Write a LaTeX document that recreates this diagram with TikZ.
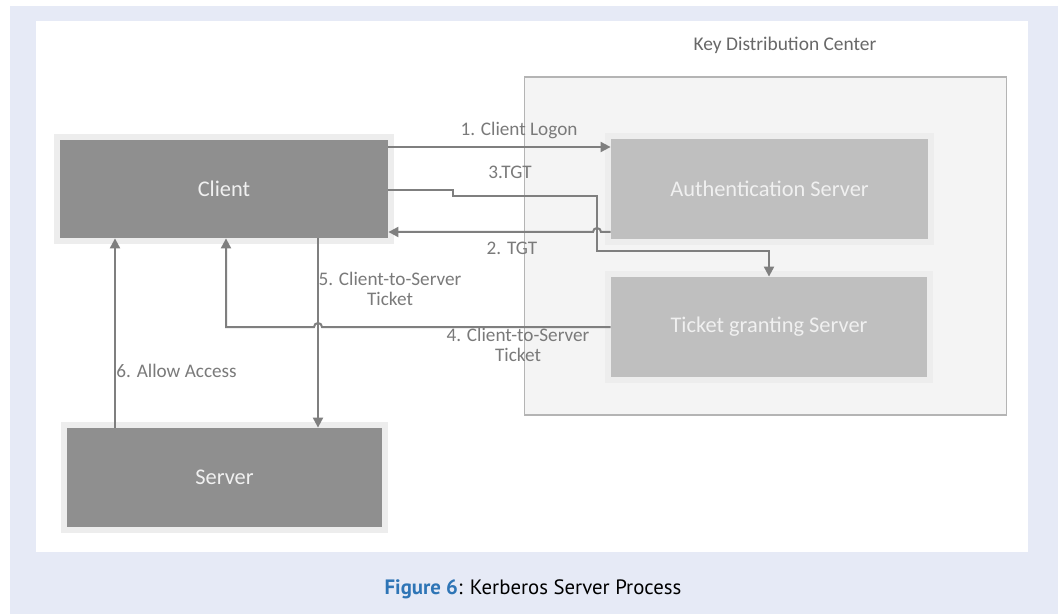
\documentclass[tikz,border=0pt]{standalone}
\usepackage{fontspec}
\setmainfont{Carlito}
\newfontfamily\captionfont{PT Sans}
\usetikzlibrary{arrows.meta,calc}

\definecolor{panelblue}{HTML}{E6EAF6}
\definecolor{figblue}{HTML}{2E75B6}
\definecolor{boxdark}{HTML}{8F8F8F}
\definecolor{boxlight}{HTML}{BFBFBF}
\definecolor{halogray}{HTML}{EDEDED}
\definecolor{kdcfill}{HTML}{F4F4F4}
\definecolor{kdcline}{HTML}{B4B4B4}
\definecolor{linegray}{HTML}{7F7F7F}
\definecolor{labelgray}{HTML}{7A7A7A}

\begin{document}
\begin{tikzpicture}[x=0.5pt, y=-0.5pt,
    srvbox/.style={preaction={draw=halogray, line width=6pt}, inner sep=0pt,
        text=white!94!black, font=\fontsize{11.2}{13}\selectfont},
    darkbox/.style={srvbox, fill=boxdark},
    lightbox/.style={srvbox, fill=boxlight},
    flow/.style={draw=linegray, line width=1pt, -{Triangle[length=5pt, width=5pt]}},
    msg/.style={text=labelgray, font=\fontsize{9.6}{9.6}\selectfont, inner sep=0pt, align=center}]

    % page panel and white frame
    \fill[white] (0,0) rectangle (1058,614);
    \fill[panelblue] (10,6) rectangle (1058,614);
    \fill[white] (36,21) rectangle (1028,552);
    \useasboundingbox (0,0) rectangle (1058,614);

    % Key Distribution Center
    \node[draw=kdcline, fill=kdcfill, line width=0.8pt, minimum width=241pt, minimum height=169pt] (kdc) at (765.5,246) {};
    \node[text=labelgray!85!black, font=\fontsize{9.7}{11}\selectfont] (kdctitle) at (785,45) {Key Distribution Center};

    % Servers inside the KDC
    \node[lightbox, minimum width=158.5pt, minimum height=50pt] (authsrv) at (769.5,189) {Authentication Server};
    \node[lightbox, minimum width=158pt, minimum height=50pt] (tgs) at (769,327) {Ticket granting Server};

    % Client and Server
    \node[darkbox, minimum width=164pt, minimum height=49pt] (client) at (224,189) {Client};
    \node[darkbox, minimum width=157.5pt, minimum height=49.5pt] (server) at (224.5,477.5) {Server};

    % 1. Client Logon
    \draw[flow] ($(client.east)+(0,-42)$) -- ($(authsrv.west)+(0,-42)$);
    % 3. TGT, handed on to the TGS
    \draw[flow] ($(client.east)+(0,1)$) -- (453,190) -- (453,196) -- (597,196) -- (597,251) -| (tgs.north);
    % 2. TGT, hops over 3.
    \draw[flow] ($(authsrv.west)+(0,43)$) -- (601,232) arc[start angle=0, end angle=-180, radius=4]
        -- ($(client.east)+(0,43)$);
    % 4. Client-to-Server Ticket, hops over 5.
    \draw[flow] (tgs.west) -- (322,327) arc[start angle=0, end angle=-180, radius=4]
        -| ($(client.south)+(2,0)$);
    % 5. Client-to-Server Ticket
    \draw[flow] ($(client.south)+(94,0)$) -- ($(server.north)+(93.5,0)$);
    % 6. Allow Access
    \draw[flow] ($(server.north)+(-109.5,0)$) -- ($(client.south)+(-109,0)$);

    % message labels
    \node[msg] (lbllogon) at (519,130) {1. Client Logon};
    \node[msg] (lbltgtc) at (510,172) {3.TGT};
    \node[msg] (lbltgta) at (512,248) {2. TGT};
    \node[msg] (lblcsfive) at (390,289) {5. Client-to-Server\\Ticket};
    \node[msg] (lblcsfour) at (518,345) {4. Client-to-Server\\Ticket};
    \node[msg, anchor=west] (lblaccess) at (116,371) {6. Allow Access};

    % caption
    \node[font=\captionfont\fontsize{10.4}{12}\selectfont] (caption) at (533,589)
        {\textcolor{figblue}{\textbf{Figure 6}}: Kerberos Server Process};
\end{tikzpicture}
\end{document}
